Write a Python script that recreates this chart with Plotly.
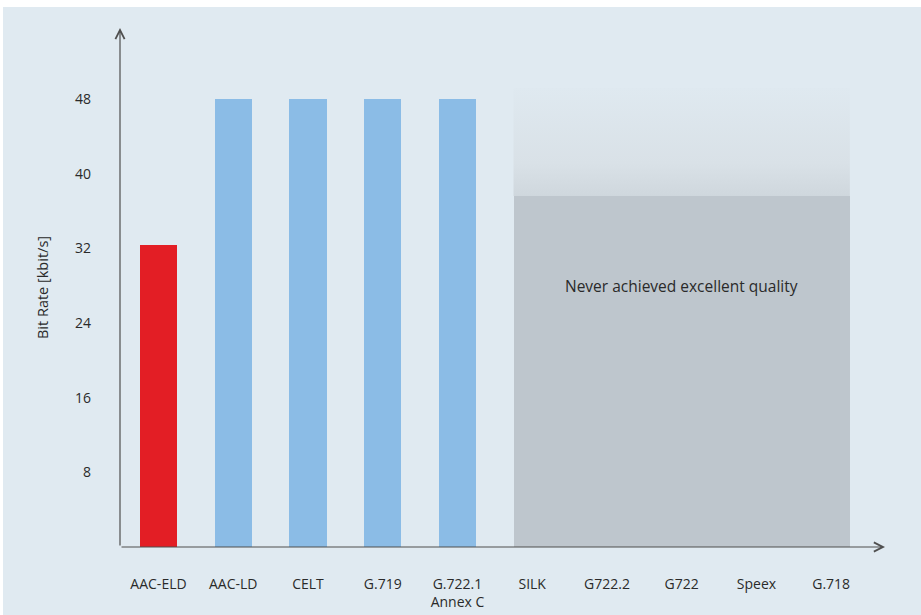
import plotly.graph_objects as go

# Codecs on the x axis
codecs = ["AAC-ELD", "AAC-LD", "CELT", "G.719", "G.722.1<br>Annex C",
          "SILK", "G722.2", "G722", "Speex", "G.718"]

# Bit rate (kbit/s) needed for excellent quality
measured_codecs = [0, 1, 2, 3, 4]
measured_rates = [32.3, 48, 48, 48, 48]
measured_colors = ["#e31e25", "#8bbce6", "#8bbce6", "#8bbce6", "#8bbce6"]

# Codecs that never reached excellent quality
never_codecs = [5, 6, 7, 8, 9]
never_solid_level = 37.6
never_fade_top = 49.2
note_text = "Never achieved excellent quality"
note_level = 28

y_ticks = [8, 16, 24, 32, 40, 48]

BAR_W = 0.5
PANEL = "#e0eaf1"
TEXT = "#2a2a2a"
AXIS = "#4f4f4f"
FONT = "Open Sans"

x_lo, x_hi = -0.515, 9.72
y_lo, y_hi = 0, 55.6

fig = go.Figure()

# Fading band above the gray block
gx0 = min(never_codecs) - BAR_W / 2
gx1 = max(never_codecs) + BAR_W / 2
fig.add_trace(go.Scatter(
    x=[gx0, gx1, gx1, gx0, gx0],
    y=[never_solid_level, never_solid_level, never_fade_top, never_fade_top, never_solid_level],
    mode="lines", line=dict(width=0), fill="toself",
    fillgradient=dict(type="vertical",
                      colorscale=[[0, "#cfd7dd"], [0.3, "#d9e1e7"], [1, "#dfe9f0"]]),
    hoverinfo="skip", showlegend=False,
))

# Solid gray block
fig.add_trace(go.Bar(
    x=[sum(never_codecs) / len(never_codecs)],
    y=[never_solid_level],
    width=[gx1 - gx0],
    marker=dict(color="#bec6cd", line=dict(width=0)),
    hoverinfo="skip", showlegend=False,
))

# Measured codec bars
fig.add_trace(go.Bar(
    x=measured_codecs, y=measured_rates, width=BAR_W,
    marker=dict(color=measured_colors, line=dict(width=0)),
    showlegend=False,
))

# Axes drawn as arrows
arrow = dict(showarrow=True, arrowhead=5, arrowsize=1.5, arrowwidth=1.2,
             arrowcolor=AXIS, text="", xref="x", yref="y", axref="x", ayref="y")
fig.add_annotation(x=x_lo, y=y_hi, ax=x_lo, ay=y_lo, **arrow)
fig.add_annotation(x=x_hi, y=y_lo, ax=x_lo, ay=y_lo, **arrow)

fig.add_annotation(
    x=sum(never_codecs) / len(never_codecs), y=note_level, text=note_text,
    showarrow=False, font=dict(family=FONT, size=15.5, color=TEXT),
)

# Light panel behind the chart
fig.add_shape(type="rect", xref="paper", yref="paper", layer="below",
              x0=(3 - 120) / 765, x1=(921 - 120) / 765,
              y0=(547 - 615) / 519, y1=(547 - 7) / 519,
              fillcolor=PANEL, line=dict(width=0))

fig.update_layout(
    width=921, height=615,
    margin=dict(l=120, r=36, t=28, b=68, autoexpand=False),
    paper_bgcolor="white", plot_bgcolor="rgba(0,0,0,0)",
    barmode="overlay", bargap=0,
    font=dict(family=FONT, size=14, color=TEXT),
    xaxis=dict(range=[x_lo, x_hi], tickmode="array", automargin=False,
               tickvals=list(range(len(codecs))), ticktext=codecs,
               showgrid=False, zeroline=False, showline=False, ticks="",
               ticklabelstandoff=27, tickfont=dict(size=14, color=TEXT)),
    yaxis=dict(range=[y_lo, y_hi], tickmode="array", tickvals=y_ticks, automargin=False,
               showgrid=False, zeroline=False, showline=False, ticks="",
               ticklabelstandoff=28, tickfont=dict(size=14, color=TEXT),
               title=dict(text="Bit Rate [kbit/s]", standoff=22,
                          font=dict(size=14.5, color=TEXT))),
)

fig.write_html("out.html")
